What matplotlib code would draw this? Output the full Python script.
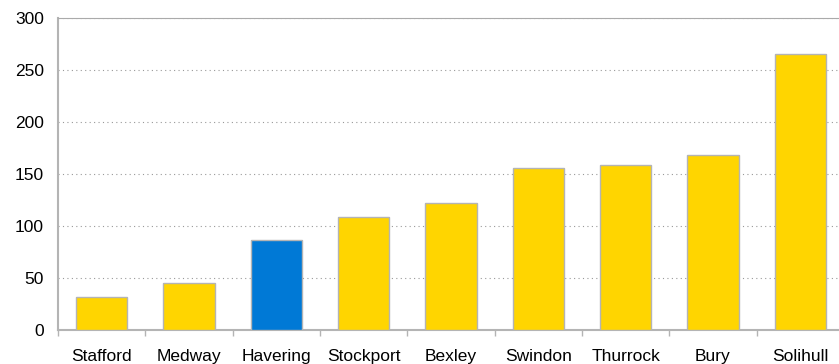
import numpy as np
import matplotlib.pyplot as plt

plt.rcParams['font.family'] = ['Liberation Sans', 'DejaVu Sans']

towns = ['Stafford', 'Medway', 'Havering', 'Stockport', 'Bexley',
         'Swindon', 'Thurrock', 'Bury', 'Solihull']
values = [31, 44.5, 86, 108.5, 122, 155.5, 158, 168, 265.5]
highlight = 'Havering'
y_ticks = [0, 50, 100, 150, 200, 250, 300]

yellow = '#FFD500'
blue = '#0079D6'
grey = '#b4b4b4'

colors = [blue if t == highlight else yellow for t in towns]

fig = plt.figure(figsize=(8.39, 3.64), dpi=100)
# right edge of the plot area runs slightly past the image, as in the original
ax = fig.add_axes([58 / 839, 1 - 329.5 / 364, 786 / 839, 311.5 / 364])

x = np.arange(len(towns))
ax.bar(x, values, width=0.59, color=colors, edgecolor=grey, linewidth=1, zorder=3)

ax.set_xlim(-0.5, len(towns) - 0.5)
ax.set_ylim(0, 300)
ax.set_yticks(y_ticks)
ax.set_xticks(x)
ax.set_xticklabels(towns)
ax.set_xticks(np.arange(len(towns) + 1) - 0.5, minor=True)

ax.tick_params(axis='x', which='major', length=0, pad=14, labelsize=12.5)
ax.tick_params(axis='x', which='minor', length=4, color=grey, width=1)
ax.tick_params(axis='y', length=0, pad=10, labelsize=12.5)

ax.grid(axis='y', linestyle=(0, (1, 3)), color='#999999', linewidth=0.8, zorder=0)

ax.spines['right'].set_visible(False)
ax.spines['top'].set_color('#aaaaaa')
ax.spines['top'].set_linestyle((0, (2, 1)))
ax.spines['left'].set_color(grey)
ax.spines['left'].set_linewidth(1.5)
ax.spines['bottom'].set_color(grey)
ax.spines['bottom'].set_linewidth(1.5)

fig.savefig('out.png', dpi=100)
